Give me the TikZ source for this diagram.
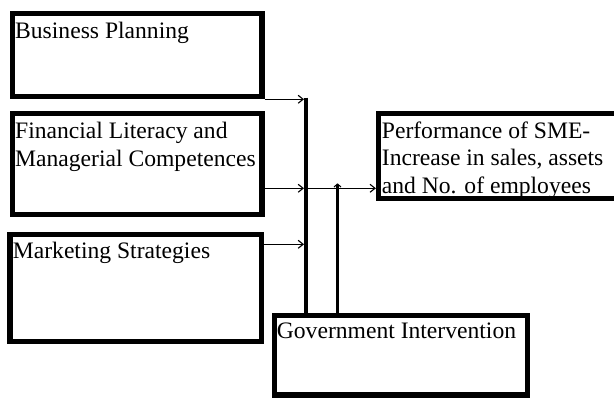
\documentclass[tikz,border=0pt]{standalone}
\usepackage{fontspec}
\setmainfont{Liberation Serif}
\usetikzlibrary{arrows.meta}
\begin{document}
\begin{tikzpicture}[x=1pt,y=-1pt,
  box/.style={draw=black, line width=5.2pt, rectangle, inner sep=0pt},
  txt/.style={anchor=base west, inner sep=0pt, font=\fontsize{23.6}{28}\selectfont},
  arr/.style={line width=1.1pt, -{Straight Barb[length=5pt,width=8pt]}},
  garr/.style={line width=2.4pt, -{Straight Barb[length=3pt,width=7pt,line width=1.1pt]}},
  bus/.style={line width=4.2pt}]
\clip (0,0) rectangle (614,398);
\fill[white] (0,0) rectangle (614,398);
% boxes
\node[box, minimum width=249.2pt, minimum height=83.4pt] (b1) at (137.4,55) {};
\node[box, minimum width=249.2pt, minimum height=100.9pt] (b2) at (137.4,164.25) {};
\node[box, minimum width=251.3pt, minimum height=107.6pt] (b3) at (135.65,288) {};
\node[box, minimum width=253.3pt, minimum height=79.8pt] (gov) at (400.85,355.1) {};
\node[box, minimum width=281.5pt, minimum height=85.2pt] (perf) at (519.25,155.9) {};
% texts
\node[txt] (t1) at (15,38.3) {Business Planning};
\node[txt] (t2a) at (15,138.3) {Financial Literacy and};
\node[txt] (t2b) at (15,166.3) {Managerial Competences};
\node[txt] (t3) at (12.7,259) {Marketing Strategies};
\node[txt] (t4) at (276.7,339) {Government Intervention};
\node[txt] (t5a) at (381.7,138.3) {Performance of SME-};
\node[txt] (t5b) at (381.7,166) {Increase in sales, assets};
\node[txt] (t5c) at (381.7,193.5) {and No. of employees};
% connectors
\coordinate (bustop) at (306,97.7);
\coordinate (busbot) at (306,318.3);
\coordinate (mid) at (306,188.3);
\coordinate (gtop) at (337.5,183.3);
\coordinate (m3) at (306,244.3);
\draw[bus] (bustop) -- (busbot);
\draw[arr] (b1.south east) -- ([xshift=-2pt]b1.south east -| bustop);
\draw[arr] (b2.east |- mid) -- ([xshift=-2pt]mid);
\draw[arr] (b3.east |- m3) -- ([xshift=-2pt]m3);
\draw[arr] ([xshift=2pt]mid) -- (mid -| perf.west);
\draw[garr] (gtop |- gov.north) -- (gtop);
\end{tikzpicture}
\end{document}
